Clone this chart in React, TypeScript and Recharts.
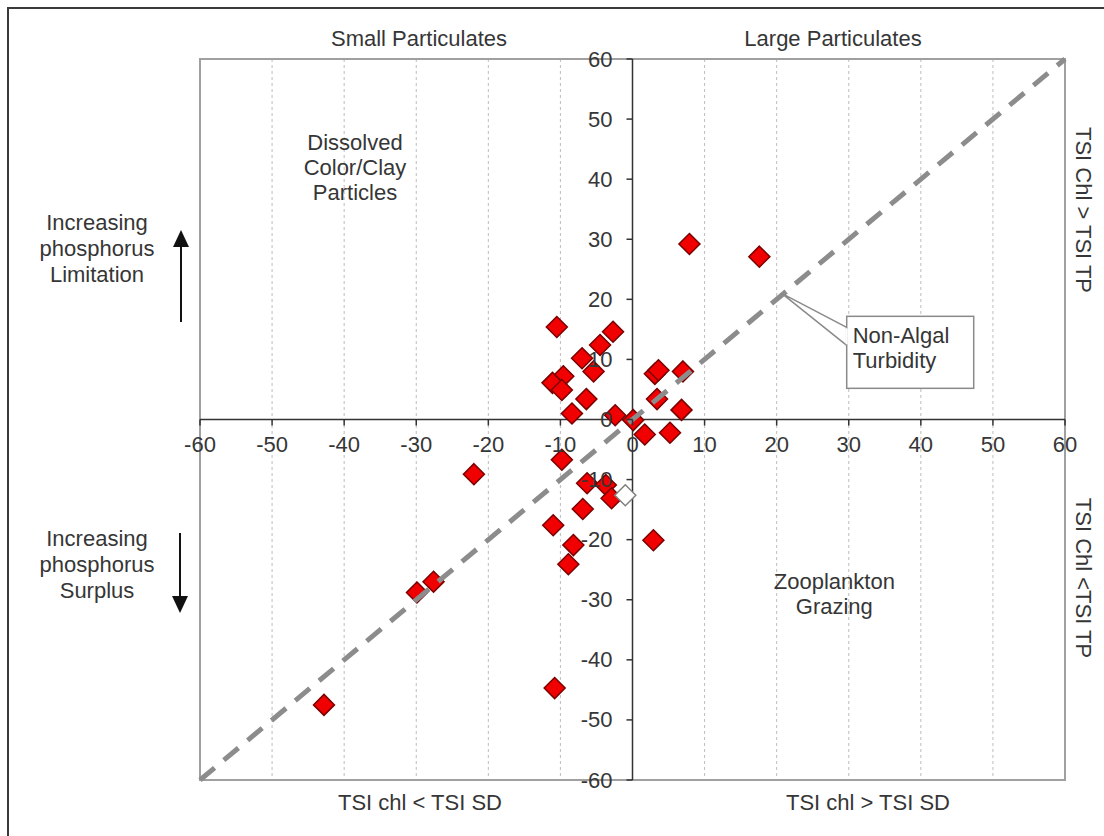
import React from 'react';
import { ScatterChart, Scatter, XAxis, YAxis, CartesianGrid, ReferenceLine, ReferenceArea, ReferenceDot } from 'recharts';

// TSI deviation values
const devX = [
  -10.5, -2.7, -4.5, -7.0, -5.4, -9.6, -11.1, -9.8, -6.4, -8.4, -2.4, 0.1, 1.7, 5.2, 3.1, 3.6,
  7.0, 3.4, 6.8, 7.9, 17.6, -9.8, -6.3, -3.7, -2.9, -6.9, -11.0, -8.2, -8.9, 2.9, -22.0, -27.6,
  -29.9, -10.8, -42.8,
];
const devY = [
  15.4, 14.6, 12.4, 10.2, 8.0, 7.2, 6.1, 4.9, 3.4, 1.0, 0.7, -0.1, -2.5, -2.2, 7.6, 8.2,
  8.0, 3.4, 1.6, 29.2, 27.1, -6.7, -10.6, -10.9, -13.1, -14.9, -17.6, -20.9, -24.1, -20.1, -9.1, -27.0,
  -28.8, -44.7, -47.5,
];
const meanX = [-1.0];
const meanY = [-12.6];

const ticks = [-60, -50, -40, -30, -20, -10, 0, 10, 20, 30, 40, 50, 60];
const diagonal = [-60, 60];

const W = 1104;
const H = 836;
const PLOT = { left: 200, top: 59, right: 1065, bottom: 780 };
const AX_X = (PLOT.left + PLOT.right) / 2;
const AX_Y = (PLOT.top + PLOT.bottom) / 2;
const FONT = '"Liberation Sans", Arial, sans-serif';
const FS = 22;
const TXT = '#363636';

const points = devX.map((x, i) => ({ x, y: devY[i] }));
const meanPts = meanX.map((x, i) => ({ x, y: meanY[i] }));
const diagPts = diagonal.map((v) => ({ x: v, y: v }));

const Diamond = (props: any) => {
  const { cx, cy, fill, stroke } = props;
  const r = 10.5;
  return (
    <polygon
      points={`${cx},${cy - r} ${cx + r},${cy} ${cx},${cy + r} ${cx - r},${cy}`}
      fill={fill}
      stroke={stroke}
      strokeWidth={1.5}
    />
  );
};

const XTick = (props: any) => {
  const { x, payload } = props;
  return (
    <g>
      <line x1={x} x2={x} y1={AX_Y} y2={AX_Y + 6} stroke="#333" strokeWidth={1.5} />
      <text x={x} y={AX_Y + 25} textAnchor="middle" dominantBaseline="central" fontSize={FS} fontFamily={FONT} fill={TXT}>
        {payload.value}
      </text>
    </g>
  );
};

const YTick = (props: any) => {
  const { y, payload } = props;
  return (
    <g>
      <line x1={AX_X - 6} x2={AX_X} y1={y} y2={y} stroke="#333" strokeWidth={1.5} />
      <text x={AX_X - 20} y={y} textAnchor="end" dominantBaseline="central" fontSize={FS} fontFamily={FONT} fill={TXT}>
        {payload.value}
      </text>
    </g>
  );
};

const Callout = (props: any) => {
  const { cx, cy } = props;
  const bx = cx + 65;
  const by = cy + 23;
  return (
    <g>
      <polygon points={`${bx},${by + 11} ${cx},${cy} ${bx},${by + 29}`} fill="#fff" stroke="#8a8a8a" strokeWidth={1.5} />
      <rect x={bx} y={by} width={127} height={72} fill="#fff" stroke="#8a8a8a" strokeWidth={1.5} />
      <line x1={bx} x2={bx} y1={by + 12} y2={by + 28} stroke="#fff" strokeWidth={2} />
      <text x={bx + 6} y={by + 19} dominantBaseline="central" fontSize={FS} fontFamily={FONT} fill={TXT}>Non-Algal</text>
      <text x={bx + 6} y={by + 44} dominantBaseline="central" fontSize={FS} fontFamily={FONT} fill={TXT}>Turbidity</text>
    </g>
  );
};

const Lines = (props: any) => {
  const { cx, cy, lines } = props;
  return (
    <g>
      {lines.map((l: string, i: number) => (
        <text key={i} x={cx} y={cy + (i - (lines.length - 1) / 2) * 25} textAnchor="middle" dominantBaseline="central" fontSize={FS} fontFamily={FONT} fill={TXT}>
          {l}
        </text>
      ))}
    </g>
  );
};

const t = (x: number, y: number, s: string, extra: any = {}) => (
  <text x={x} y={y} textAnchor="middle" dominantBaseline="central" fontSize={FS} fontFamily={FONT} fill={TXT} {...extra}>
    {s}
  </text>
);

export default function App() {
  return (
    <div style={{ position: 'absolute', left: 0, top: 0, width: W, height: H, overflow: 'hidden', background: '#fff' }}>
      <ScatterChart
        width={W}
        height={H}
        margin={{ top: PLOT.top, left: PLOT.left - 1, right: W - PLOT.right, bottom: H - PLOT.bottom - 1 }}
      >
        <CartesianGrid horizontal={false} stroke="#bdbdbd" strokeDasharray="3 3" />
        <XAxis type="number" dataKey="x" domain={[-60, 60]} ticks={ticks} interval={0} height={1} axisLine={false} tickLine={false} tick={<XTick />} />
        <YAxis type="number" dataKey="y" domain={[-60, 60]} ticks={ticks} interval={0} width={1} axisLine={false} tickLine={false} tick={<YTick />} />
        <ReferenceArea x1={-60} x2={60} y1={-60} y2={60} fill="none" stroke="#a0a0a0" strokeWidth={2} fillOpacity={0} />
        <ReferenceLine x={0} stroke="#333" strokeWidth={1.5} />
        <ReferenceLine y={0} stroke="#333" strokeWidth={1.5} />
        <ReferenceDot x={-38.5} y={42} r={0} shape={(p: any) => <Lines {...p} lines={['Dissolved', 'Color/Clay', 'Particles']} />} />
        <ReferenceDot x={28} y={-29} r={0} shape={(p: any) => <Lines {...p} lines={['Zooplankton', 'Grazing']} />} />
        <Scatter data={points} fill="#f00000" stroke="#7a0000" shape={<Diamond />} isAnimationActive={false} />
        <Scatter data={meanPts} fill="#ffffff" stroke="#808080" shape={<Diamond />} isAnimationActive={false} />
        <Scatter data={diagPts} line={{ stroke: '#8c8c8c', strokeWidth: 5, strokeDasharray: '19 12' }} shape={() => <g />} isAnimationActive={false} />
        <ReferenceDot x={20.7} y={21} r={0} shape={<Callout />} />
      </ScatterChart>
      <svg width={W} height={H} style={{ position: 'absolute', left: 0, top: 0, pointerEvents: 'none' }}>
        <path d={`M8,${H} L8,8 L${W},8`} fill="none" stroke="#3a3a3a" strokeWidth={2} />
        {t(419, 38, 'Small Particulates')}
        {t(833, 38, 'Large Particulates')}
        {t(420, 802, 'TSI chl < TSI SD')}
        {t(868, 802, 'TSI chl > TSI SD')}
        {t(1083, 210, 'TSI Chl > TSI TP', { transform: 'rotate(90 1083 210)' })}
        {t(1083, 578, 'TSI Chl <TSI TP', { transform: 'rotate(90 1083 578)' })}
        {t(97, 222, 'Increasing')}
        {t(97, 248, 'phosphorus')}
        {t(97, 274, 'Limitation')}
        {t(97, 538, 'Increasing')}
        {t(97, 564, 'phosphorus')}
        {t(97, 590, 'Surplus')}
        <line x1={181} x2={181} y1={322} y2={245} stroke="#111" strokeWidth={2} />
        <polygon points="181,230 173,247 189,247" fill="#111" />
        <line x1={180} x2={180} y1={533} y2={598} stroke="#111" strokeWidth={2} />
        <polygon points="180,613 172,596 188,596" fill="#111" />
      </svg>
    </div>
  );
}
